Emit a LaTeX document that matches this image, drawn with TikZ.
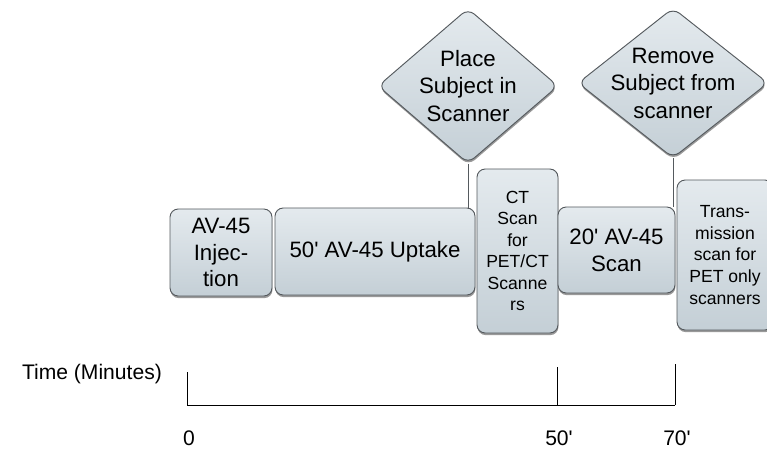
\documentclass[tikz,border=0pt]{standalone}
\usepackage{fontspec}
\setmainfont{Liberation Sans}
\usepackage{xcolor}
\usepackage{tikz}
\usetikzlibrary{shapes.geometric,shadows}

\definecolor{boxtop}{RGB}{228,234,238}
\definecolor{boxbot}{RGB}{196,207,214}
\definecolor{boxline}{RGB}{85,90,94}

\newcommand{\mn}{\textquotesingle}

\tikzset{
  stage/.style={rectangle, rounded corners=7pt, draw=boxline, line width=0.8pt,
    top color=boxtop, bottom color=boxbot, align=center, inner sep=0pt,
    drop shadow={shadow xshift=0.4pt, shadow yshift=-1.8pt, opacity=0.4, fill=black},
    font=\fontsize{19}{23}\selectfont},
  smallstage/.style={stage, font=\fontsize{15}{18.4}\selectfont},
  decision/.style={diamond, rounded corners=7pt, draw=boxline, line width=0.8pt,
    top color=boxtop, bottom color=boxbot, inner sep=0pt,
    drop shadow={shadow xshift=0.4pt, shadow yshift=-1.8pt, opacity=0.4, fill=black}},
  dtext/.style={align=center, font=\fontsize{19}{23.5}\selectfont},
  link/.style={draw=boxline, line width=0.7pt},
  timetext/.style={font=\fontsize{18}{21}\selectfont}
}

\begin{document}
\begin{tikzpicture}[x=0.03cm, y=0.03cm]
  \useasboundingbox (0,0) rectangle (767,450);
  \clip (0,0) rectangle (767,450);

  \node[stage, minimum width=3.06cm, minimum height=2.61cm] (inject) at (221,197.5) {AV-45\\Injec-\\tion};
  \node[stage, minimum width=6.0cm, minimum height=2.61cm] (uptake) at (375,198.5) {50\mn{} AV-45 Uptake};
  \node[smallstage, minimum width=2.43cm, minimum height=4.92cm] (ctscan) at (517.5,199) {CT\\Scan\\for\\PET/CT\\Scanne\\rs};
  \node[stage, minimum width=3.51cm, minimum height=2.58cm] (petscan) at (616.5,200) {20\mn{} AV-45\\Scan};
  \node[smallstage, minimum width=2.88cm, minimum height=4.5cm] (transm) at (725,195) {Trans-\\mission\\scan for\\PET only\\scanners};

  \node[decision, minimum width=5.4cm, minimum height=4.65cm,
    label={[dtext]center:{Place\\Subject in\\Scanner}}] (place) at (468,364) {};
  \node[decision, minimum width=5.7cm, minimum height=4.5cm,
    label={[dtext]center:{Remove\\Subject from\\scanner}}] (remove) at (673,367) {};

  \draw[link] (place.south) -- (place.south |- uptake.north);
  \draw[link] (remove.south) -- (remove.south |- petscan.north);

  \node[timetext, anchor=east] (timelbl) at (166,76) {Time (Minutes)};
  \coordinate (axisL) at (187,45);
  \coordinate (axisR) at (675,45);
  \draw[line width=0.8pt] (axisL) -- (axisR);
  \foreach \x/\h/\lbl/\nm in {187/33/0/t0, 557/38/50\mn/t50, 675/41/70\mn/t70} {
    \coordinate (\nm) at (\x,45);
    \draw[line width=0.8pt] (\nm) -- ++(0,\h);
    \node[timetext] (\nm lbl) at (\x+2,12) {\lbl};
  }
\end{tikzpicture}
\end{document}
